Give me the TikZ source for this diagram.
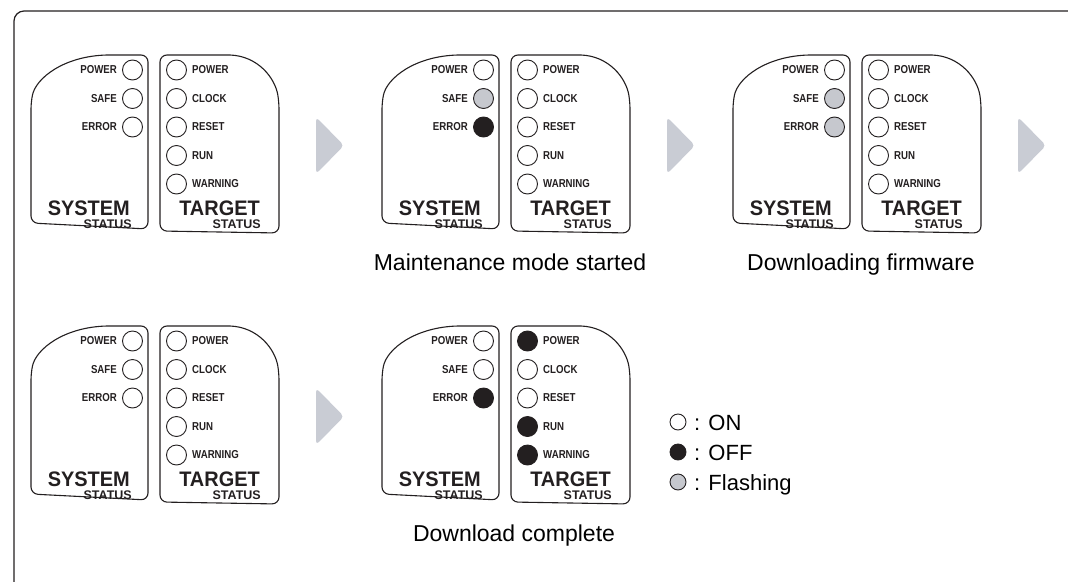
\documentclass[tikz,border=0pt]{standalone}
\usepackage{fontspec}
\setmainfont{Liberation Sans}
\newfontfamily\ledfont[FakeStretch=0.84]{Liberation Sans}
\newfontfamily\titlefont[FakeStretch=0.95]{Liberation Sans}

\definecolor{ink}{HTML}{231F20}
\definecolor{flashgray}{HTML}{C6C8CE}
\definecolor{arrowgray}{HTML}{C9CCD4}

\tikzset{
    panel/.style={draw=ink, line width=1.1pt, rounded corners=7pt},
    led/.style={circle, draw=ink, line width=0.9pt, minimum size=20pt, inner sep=0pt},
    ledon/.style={led, fill=white},
    ledoff/.style={led, fill=ink},
    ledflash/.style={led, fill=flashgray},
    ledlabel/.style={inner sep=0pt, text=ink, font=\ledfont\bfseries\fontsize{11.5}{12}\selectfont},
    bigtitle/.style={inner sep=0pt, text=ink, anchor=base east, font=\titlefont\bfseries\fontsize{21}{21}\selectfont},
    subtitle/.style={inner sep=0pt, text=ink, anchor=base east, font=\bfseries\fontsize{12.5}{13}\selectfont},
    stepcaption/.style={inner sep=0pt, anchor=base, font=\fontsize{23}{23}\selectfont},
    keytext/.style={inner sep=0pt, anchor=base west, font=\fontsize{22}{22}\selectfont},
    nextstep/.style={fill=arrowgray, rounded corners=4pt},
    pics/ledgroup/.style 2 args={code={
        % system status side
        \draw[panel] (107,55) -- (148,55) -- (148,229) -- (31,223) -- (31,102)
            [sharp corners] .. controls (36,78) and (64,56) .. (107,55);
        \foreach \s [count=\i] in {#1}
            \node[\s] (-s\i) at (132.5,{70+28.5*(\i-1)}) {};
        \foreach \t [count=\i] in {POWER,SAFE,ERROR}
            \node[ledlabel, anchor=east] (-sl\i) at (117,{70+28.5*(\i-1)}) {\t};
        \node[bigtitle] (-sys) at (130,215) {SYSTEM};
        \node[subtitle] (-sysst) at (132,228.5) {STATUS};
        % target status side
        \draw[panel] (230,55) -- (160,55) -- (160,231) -- (279,233) -- (279,102)
            [sharp corners] .. controls (275,78) and (258,56) .. (230,55);
        \foreach \s [count=\i] in {#2}
            \node[\s] (-t\i) at (176.5,{70+28.5*(\i-1)}) {};
        \foreach \t [count=\i] in {POWER,CLOCK,RESET,RUN,WARNING}
            \node[ledlabel, anchor=west] (-tl\i) at (192,{70+28.5*(\i-1)}) {\t};
        \node[bigtitle] (-tgt) at (260,215) {TARGET};
        \node[subtitle] (-tgtst) at (261,228.5) {STATUS};
    }}
}

\begin{document}
\begin{tikzpicture}[x=1pt, y=-1pt]
    \useasboundingbox (0,0) rectangle (1068,581);
    \clip (0,0) rectangle (1068,581);
    \draw[ink, line width=1.2pt, rounded corners=10pt] (14,11) rectangle (1080,600);

    \pic (start) at (0,0) {ledgroup={ledon,ledon,ledon}{ledon,ledon,ledon,ledon,ledon}};
    \pic (maint) at (351,0) {ledgroup={ledon,ledflash,ledoff}{ledon,ledon,ledon,ledon,ledon}};
    \pic (down) at (702,0) {ledgroup={ledon,ledflash,ledflash}{ledon,ledon,ledon,ledon,ledon}};
    \pic (reset) at (0,271) {ledgroup={ledon,ledon,ledon}{ledon,ledon,ledon,ledon,ledon}};
    \pic (done) at (351,271) {ledgroup={ledon,ledon,ledoff}{ledoff,ledon,ledon,ledoff,ledoff}};

    % grey step arrows
    \foreach \x/\y in {0/0, 351/0, 702/0, 0/271}
        \fill[nextstep] ({316+\x},{117+\y}) -- ({344+\x},{145.5+\y}) -- ({316+\x},{174+\y}) -- cycle;

    \node[stepcaption] (maintcap) at (510,270) {Maintenance mode started};
    \node[stepcaption] (downcap) at (861,270) {Downloading firmware};
    \node[stepcaption] (donecap) at (514,541) {Download complete};

    % legend
    \node[ledon, minimum size=16pt] (keyon) at (678,422) {};
    \node[ledoff, minimum size=16pt] (keyoff) at (678,452) {};
    \node[ledflash, minimum size=16pt] (keyflash) at (678,482) {};
    \node[keytext] (keyontext) at (694,430) {: ON};
    \node[keytext] (keyofftext) at (694,460) {: OFF};
    \node[keytext] (keyflashtext) at (694,490) {: Flashing};
\end{tikzpicture}
\end{document}
